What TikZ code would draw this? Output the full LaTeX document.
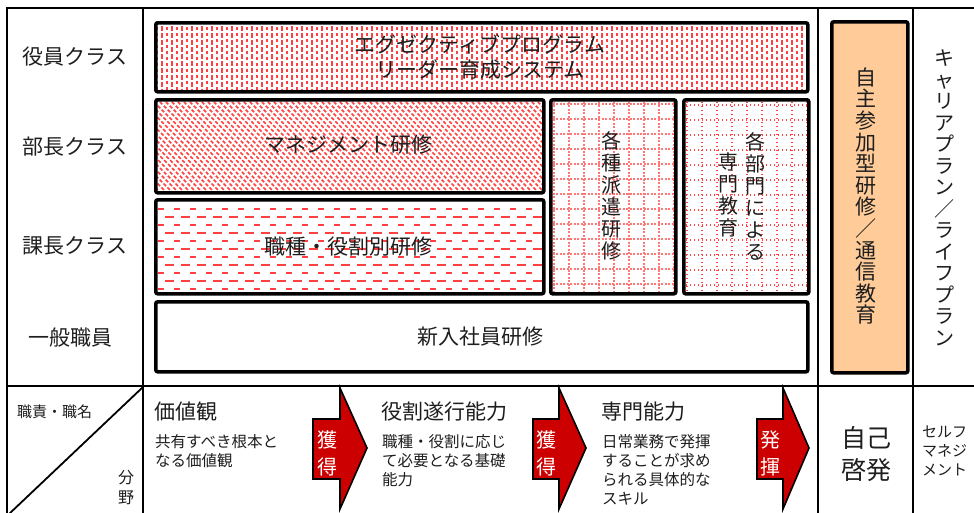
\documentclass[tikz,border=0pt]{standalone}
\usepackage{fontspec}
\setmainfont{Noto Sans CJK JP}
\definecolor{patred}{RGB}{255,64,64}
\definecolor{patpink}{RGB}{255,120,120}
\definecolor{arrowred}{RGB}{204,0,0}
\definecolor{peach}{RGB}{255,204,153}
\definecolor{ink}{RGB}{30,30,30}
\tikzset{
  frame/.style={draw=black, line width=2.6pt},
  boxst/.style={draw=black, line width=3.6pt, rounded corners=2pt},
  pat/.style={draw=patred, line width=1.3pt},
  arrowst/.style={draw=black, line width=1.6pt, fill=arrowred, line join=miter},
  lbl/.style={font=\fontsize{21}{24}\selectfont, text=ink, inner sep=0pt},
  big/.style={font=\fontsize{21}{25}\selectfont, text=ink, inner sep=0pt, align=center},
  head/.style={font=\fontsize{21}{25}\selectfont, text=ink, inner sep=0pt, anchor=west},
  small/.style={font=\fontsize{15.5}{19}\selectfont, text=ink, inner sep=0pt, anchor=north west, align=left},
  vert/.style={font=\fontsize{20}{22}\selectfont, text=ink, inner sep=0pt, align=center},
  arrtxt/.style={font=\fontsize{20}{27}\selectfont, text=white, inner sep=0pt, align=center},
}
\begin{document}
\begin{tikzpicture}[x=1pt,y=-1pt]
\useasboundingbox (0,0) rectangle (974,512);
\fill[white] (0,0) rectangle (974,512);

% ---------- patterns ----------
% top box: vertical dashed lines
\begin{scope}
  \clip (154,21) rectangle (806,90);
  \foreach \x in {157,167,...,806} {
    \draw[pat, line width=1.4pt, dash pattern=on 3pt off 3pt] (\x,21) -- (\x,90);
    \draw[pat, line width=1.4pt, dash pattern=on 5pt off 2pt, dash phase=2pt] (\x+5,21) -- (\x+5,90);
  }
\end{scope}
% management: diagonal dashed lines
\begin{scope}
  \clip (154,98) rectangle (542,191);
  \foreach \i in {-100,-94,...,390} {
    \draw[pat, line width=1.6pt, dash pattern=on 3.5pt off 2pt] (154+\i,98) -- (254+\i,198);
  }
\end{scope}
% job/role: horizontal dashed lines
\begin{scope}
  \clip (154,198) rectangle (542,292);
  \foreach \y in {209,225,...,292} {
    \draw[pat, line width=1.6pt, dash pattern=on 6pt off 10pt] (158,\y) -- (542,\y);
  }
  \foreach \y in {217,233,...,292} {
    \draw[pat, line width=1.6pt, dash pattern=on 9pt off 7pt] (165,\y) -- (542,\y);
  }
\end{scope}
% dispatch: dashed grid
\begin{scope}
  \clip (549,98) rectangle (674,292);
  \foreach \x in {554,569,...,674} {
    \draw[draw=patpink, line width=1.6pt, dash pattern=on 2pt off 1.5pt] (\x,98) -- (\x,292);
  }
  \foreach \y in {104,119,...,292} {
    \draw[draw=patpink, line width=1.6pt, dash pattern=on 2pt off 1.5pt] (549,\y) -- (674,\y);
  }
\end{scope}
% department: dotted grid
\begin{scope}
  \clip (682,98) rectangle (807,292);
  \foreach \x in {687,702,...,807} {
    \draw[draw=patred, line width=1.4pt, dash pattern=on 1.4pt off 2.6pt] (\x,98) -- (\x,292);
  }
  \foreach \y in {105,120,...,292} {
    \draw[draw=patred, line width=1.4pt, dash pattern=on 1.4pt off 2.6pt] (682,\y) -- (807,\y);
  }
\end{scope}

% ---------- boxes ----------
\node[boxst, minimum width=652pt, minimum height=69pt, anchor=north west, inner sep=0pt] (exec) at (154,21) {};
\node[boxst, minimum width=388pt, minimum height=93pt, anchor=north west, inner sep=0pt] (mgmt) at (154,98) {};
\node[boxst, minimum width=388pt, minimum height=94pt, anchor=north west, inner sep=0pt] (role) at (154,198) {};
\node[boxst, minimum width=125pt, minimum height=194pt, anchor=north west, inner sep=0pt] (disp) at (549,98) {};
\node[boxst, minimum width=125pt, minimum height=194pt, anchor=north west, inner sep=0pt] (dept) at (682,98) {};
\node[boxst, fill=white, minimum width=652pt, minimum height=70pt, anchor=north west, inner sep=0pt] (new) at (154,300) {};
\node[boxst, fill=peach, minimum width=76pt, minimum height=351pt, anchor=north west, inner sep=0pt] (self) at (830,20) {};

% ---------- frame ----------
\draw[frame] (7,514) -- (7,8) -- (976,8);
\draw[frame] (7,386) -- (976,386);
\draw[frame] (143,8) -- (143,514);
\draw[frame] (818,8) -- (818,514);
\draw[frame] (913,8) -- (913,514);
\draw[line width=1.8pt] (143,387) -- (9,514);

% ---------- texts in boxes ----------
\node[big] (t-exec) at (480,57) {エグゼクティブプログラム\\リーダー育成システム};
\node[big] (t-mgmt) at (348,145) {マネジメント研修};
\node[big] (t-role) at (348,247) {職種・役割別研修};
\node[big] (t-new) at (480,337) {新入社員研修};
\node[vert] (t-disp) at (611,196) {各\\種\\派\\遣\\研\\修};
\node[vert] (t-dept1) at (755,196) {各\\部\\門\\に\\よ\\る};
\node[vert] (t-dept2) at (728,195) {専\\門\\教\\育};
\node[vert, font=\fontsize{21}{21.6}\selectfont] (t-self) at (866,196) {自\\主\\参\\加\\型\\研\\修\\／\\通\\信\\教\\育};
\node[vert, font=\fontsize{20}{21.5}\selectfont] (t-career) at (944,198) {キ\\ャ\\リ\\ア\\プ\\ラ\\ン\\／\\ラ\\イ\\フ\\プ\\ラ\\ン};

% ---------- left labels ----------
\node[lbl] (r1) at (75,57) {役員クラス};
\node[lbl] (r2) at (75,147) {部長クラス};
\node[lbl] (r3) at (75,246) {課長クラス};
\node[lbl] (r4) at (70,338) {一般職員};

% ---------- bottom row ----------
\node[font=\fontsize{15}{18}\selectfont, text=ink, inner sep=0pt, anchor=west] (c1) at (17,412) {職責・職名};
\node[font=\fontsize{16}{20}\selectfont, text=ink, inner sep=0pt, align=center] (c2) at (126,488) {分\\野};

\node[head] (h1) at (154,412) {価値観};
\node[small] (s1) at (155,434) {共有すべき根本と\\なる価値観};
\node[head] (h2) at (381,412) {役割遂行能力};
\node[small] (s2) at (382,434) {職種・役割に応じ\\て必要となる基礎\\能力};
\node[head] (h3) at (601,412) {専門能力};
\node[small] (s3) at (602,434) {日常業務で発揮\\することが求め\\られる具体的な\\スキル};

\draw[arrowst] (313,419) -- (340,419) -- (340,388) -- (367,448) -- (340,509) -- (340,479) -- (313,479) -- cycle;
\draw[arrowst] (533,419) -- (559,419) -- (559,388) -- (586,448) -- (559,509) -- (559,479) -- (533,479) -- cycle;
\draw[arrowst] (757,419) -- (783,419) -- (783,388) -- (809,448) -- (783,509) -- (783,479) -- (757,479) -- cycle;
\node[arrtxt] (a1) at (327,453) {獲\\得};
\node[arrtxt] (a2) at (546,453) {獲\\得};
\node[arrtxt] (a3) at (770,453) {発\\揮};

\node[font=\fontsize{25}{32}\selectfont, text=ink, inner sep=0pt, align=center] (jiko) at (866,454) {自己\\啓発};
\node[font=\fontsize{15}{19}\selectfont, text=ink, inner sep=0pt, align=left, anchor=west] (selfm) at (922,451) {セルフ\\マネジ\\メント};
\end{tikzpicture}
\end{document}
